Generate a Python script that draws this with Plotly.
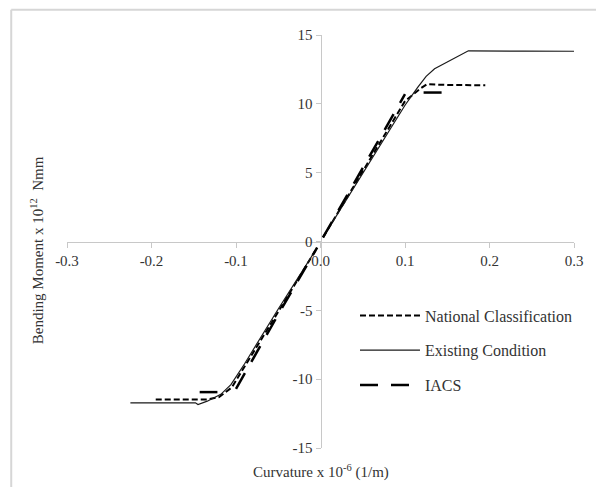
import plotly.graph_objects as go

# Existing Condition (solid)
existing_x = [-0.225, -0.148, -0.145, -0.134, -0.118, -0.106, -0.09, -0.05, -0.004, None,
              0.003, 0.05, 0.10, 0.115, 0.125, 0.135, 0.15, 0.162, 0.175, 0.24, 0.30]
existing_y = [-11.72, -11.72, -11.84, -11.6, -11.1, -10.4, -8.9, -4.9, -0.45, None,
              0.3, 5.0, 9.9, 11.2, 12.0, 12.55, 13.05, 13.45, 13.85, 13.83, 13.82]

# National Classification (short dashes)
national_x = [-0.195, -0.134, -0.12, -0.105, -0.05, -0.004, None,
              0.003, 0.05, 0.10, 0.118, 0.126, 0.15, 0.195]
national_y = [-11.47, -11.47, -11.3, -10.6, -5.1, -0.45, None,
              0.3, 5.1, 10.2, 11.1, 11.42, 11.37, 11.35]

# IACS (long dashes)
iacs_x = [-0.143, -0.122, None, -0.10, -0.05, -0.004, None,
          0.003, 0.05, 0.10, None, 0.122, 0.144]
iacs_y = [-10.94, -10.94, None, -10.7, -5.3, -0.45, None,
          0.3, 5.3, 10.7, None, 10.82, 10.82]

x_ticks = [-0.3, -0.2, -0.1, 0.0, 0.1, 0.2, 0.3]
x_tick_labels = ["-0.3", "-0.2", "-0.1", "0.0", "0.1", "0.2", "0.3"]
y_ticks = [-15, -10, -5, 0, 5, 10, 15]
y_tick_labels = ["-15", "-10", "-5", "0", "5", "10", "15"]

FONT = "Liberation Serif, Times New Roman, serif"
AXIS_COLOR = "#c8c8c8"
TEXT_COLOR = "#333333"

fig = go.Figure()
fig.add_trace(go.Scatter(x=national_x, y=national_y, mode="lines", name="National Classification",
                         legendgroup="a",
                         line=dict(color="black", width=2, dash="6px,3px")))
fig.add_trace(go.Scatter(x=existing_x, y=existing_y, mode="lines", name="Existing Condition",
                         legendgroup="b",
                         line=dict(color="#1a1a1a", width=1.2)))
fig.add_trace(go.Scatter(x=iacs_x, y=iacs_y, mode="lines", name="IACS",
                         legendgroup="c",
                         line=dict(color="black", width=2.5, dash="18px,13px")))

fig.update_layout(
    width=596, height=479,
    margin=dict(l=59, r=30, t=27, b=39),
    paper_bgcolor="white", plot_bgcolor="white",
    font=dict(family=FONT, size=15, color=TEXT_COLOR),
    showlegend=True,
    legend=dict(x=0.568, y=0.362, xanchor="left", yanchor="top",
                font=dict(family=FONT, size=16, color=TEXT_COLOR),
                itemwidth=60,
                tracegroupgap=11, bgcolor="rgba(0,0,0,0)"),
    xaxis=dict(range=[-0.3, 0.3], tickvals=x_ticks, ticktext=x_tick_labels,
               showgrid=False, zeroline=False, showline=True, linecolor=AXIS_COLOR, linewidth=1,
               ticks="outside", ticklen=5, tickcolor=AXIS_COLOR,
               anchor="free", position=0.5,
               tickfont=dict(family=FONT, size=15, color=TEXT_COLOR)),
    yaxis=dict(range=[-15, 15], tickvals=y_ticks, ticktext=y_tick_labels,
               showgrid=False, zeroline=False, showline=True, linecolor=AXIS_COLOR, linewidth=1,
               ticks="outside", ticklen=5, tickcolor=AXIS_COLOR,
               anchor="free", position=0.5,
               tickfont=dict(family=FONT, size=15, color=TEXT_COLOR)),
    annotations=[
        dict(text="Curvature x 10<sup>-6</sup> (1/m)", xref="paper", yref="paper",
             x=0.5, y=-0.056, xanchor="center", yanchor="middle", showarrow=False,
             font=dict(family=FONT, size=15, color=TEXT_COLOR)),
        dict(text="Bending Moment x 10<sup>12</sup>  Nmm", xref="paper", yref="paper",
             x=-0.059, y=0.479, xanchor="center", yanchor="middle", textangle=-90,
             showarrow=False, font=dict(family=FONT, size=15, color=TEXT_COLOR)),
    ],
    shapes=[
        dict(type="line", xref="paper", yref="paper", x0=-0.110, y0=1.061, x1=1.1, y1=1.061,
             line=dict(color="#d6d6d6", width=2), layer="above"),
        dict(type="line", xref="paper", yref="paper", x0=-0.110, y0=1.061, x1=-0.110, y1=-0.1,
             line=dict(color="#d6d6d6", width=2), layer="above"),
    ],
)

fig.write_html("out.html")
